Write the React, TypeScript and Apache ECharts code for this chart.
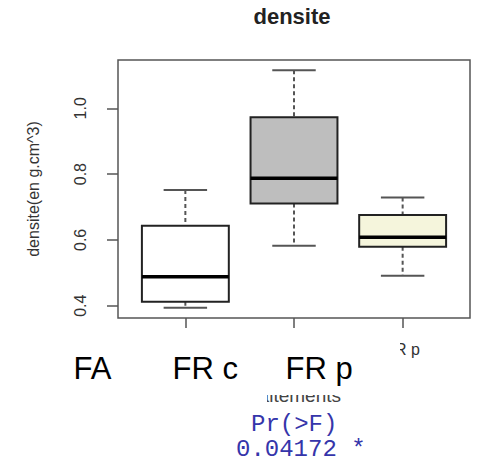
import React, { useEffect, useRef } from "react";
import * as echarts from "echarts";

const categories = ["FA", "FR c", "FR p"];
const whiskerLow = [0.394, 0.582, 0.491];
const q1 = [0.412, 0.711, 0.579];
const median = [0.488, 0.787, 0.608];
const q3 = [0.643, 0.973, 0.676];
const whiskerHigh = [0.752, 1.116, 0.729];
const boxFills = ["#ffffff", "#bebebe", "#f5f5dc"];
const yTicks = [0.4, 0.6, 0.8, 1.0];
const xTicks = [1, 2, 3];
const overlayLabels = ["FA", "FR c", "FR p"];
const overlayX = [73.5, 172.5, 285.5];
const pLabel = "Pr(>F)";
const pValue = "0.04172 *";

const SANS = "'Liberation Sans', Arial, Helvetica, sans-serif";
const MONO = "'Liberation Mono', 'Courier New', monospace";

export default function App() {
  const ref = useRef<HTMLDivElement>(null);
  useEffect(() => {
    if (!ref.current) return;
    const chart = echarts.init(ref.current, undefined, { renderer: "svg" });
    const data = categories.map((_, i) => [
      i + 1,
      whiskerLow[i],
      q1[i],
      median[i],
      q3[i],
      whiskerHigh[i],
    ]);
    chart.setOption({
      animation: false,
      backgroundColor: "#ffffff",
      grid: {
        left: 118,
        right: 9,
        top: 60,
        bottom: 144,
        show: true,
        borderColor: "#555",
        borderWidth: 1.5,
        backgroundColor: "transparent",
      },
      xAxis: {
        type: "value",
        min: 0.38,
        max: 3.62,
        axisLine: { show: false },
        splitLine: { show: false },
        axisTick: {
          show: true,
          customValues: xTicks,
          length: 10,
          lineStyle: { color: "#555", width: 1.5 },
        },
        axisLabel: {
          customValues: [3],
          margin: 23,
          fontSize: 16,
          fontFamily: SANS,
          color: "#333",
          formatter: (v: number) => categories[Math.round(v) - 1] ?? "",
        },
        name: "traitements",
        nameLocation: "middle",
        nameGap: 68,
        nameTextStyle: { fontSize: 19, fontFamily: SANS, color: "#444" },
      },
      yAxis: {
        type: "value",
        min: 0.3626,
        max: 1.1468,
        axisLine: { show: false },
        splitLine: { show: false },
        axisTick: {
          show: true,
          customValues: yTicks,
          length: 11,
          lineStyle: { color: "#555", width: 1.5 },
        },
        axisLabel: {
          customValues: yTicks,
          rotate: 90,
          margin: 30,
          fontSize: 16,
          fontFamily: SANS,
          color: "#333",
          formatter: (v: number) => v.toFixed(1),
        },
        name: "densite(en g.cm^3)",
        nameLocation: "middle",
        nameGap: 77,
        nameTextStyle: { fontSize: 16, fontFamily: SANS, color: "#333" },
      },
      series: [
        {
          type: "custom",
          clip: false,
          data,
          renderItem: (params: any, api: any) => {
            const x = api.value(0);
            const i = params.dataIndex;
            const pLo = api.coord([x, api.value(1)]);
            const pQ1 = api.coord([x, api.value(2)]);
            const pMed = api.coord([x, api.value(3)]);
            const pQ3 = api.coord([x, api.value(4)]);
            const pHi = api.coord([x, api.value(5)]);
            const half = api.size([0.8, 0])[0] / 2;
            const capHalf = api.size([0.4, 0])[0] / 2;
            const cx = pMed[0];
            const dashStyle = {
              stroke: "#555",
              lineWidth: 2,
              lineDash: [4, 3],
            };
            const solid = { stroke: "#555", lineWidth: 2 };
            return {
              type: "group",
              children: [
                {
                  type: "line",
                  shape: { x1: cx, y1: pHi[1], x2: cx, y2: pQ3[1] },
                  style: dashStyle,
                },
                {
                  type: "line",
                  shape: { x1: cx, y1: pQ1[1], x2: cx, y2: pLo[1] },
                  style: dashStyle,
                },
                {
                  type: "line",
                  shape: {
                    x1: cx - capHalf,
                    y1: pHi[1],
                    x2: cx + capHalf,
                    y2: pHi[1],
                  },
                  style: solid,
                },
                {
                  type: "line",
                  shape: {
                    x1: cx - capHalf,
                    y1: pLo[1],
                    x2: cx + capHalf,
                    y2: pLo[1],
                  },
                  style: solid,
                },
                {
                  type: "rect",
                  shape: {
                    x: cx - half,
                    y: pQ3[1],
                    width: half * 2,
                    height: pQ1[1] - pQ3[1],
                  },
                  style: { fill: boxFills[i], stroke: "#222", lineWidth: 2 },
                },
                {
                  type: "line",
                  shape: {
                    x1: cx - half,
                    y1: pMed[1],
                    x2: cx + half,
                    y2: pMed[1],
                  },
                  style: { stroke: "#000", lineWidth: 3.5 },
                },
              ],
            };
          },
        },
      ],
      graphic: [
        {
          type: "text",
          x: 292,
          y: 16.4,
          z: 100,
          style: {
            text: "densite",
            fontSize: 22,
            fontWeight: "bold",
            fontFamily: SANS,
            fill: "#222",
            align: "center",
            verticalAlign: "middle",
          },
        },
        {
          type: "rect",
          z: 100,
          shape: { x: 40, y: 330, width: 360, height: 65 },
          style: { fill: "#ffffff" },
        },
        {
          type: "rect",
          z: 100,
          shape: { x: 236, y: 390, width: 31, height: 20 },
          style: { fill: "#ffffff" },
        },
        ...overlayLabels.map((t, i) => ({
          type: "text",
          x: overlayX[i],
          y: 368.5,
          z: 101,
          style: {
            text: t,
            fontSize: 31,
            fontFamily: SANS,
            fill: "#000",
            align: "left",
            verticalAlign: "middle",
          },
        })),
        {
          type: "text",
          x: 251,
          y: 424.5,
          z: 101,
          style: {
            text: pLabel,
            fontSize: 24,
            lineHeight: 21,
            fontFamily: MONO,
            fill: "#3535aa",
            align: "left",
            verticalAlign: "middle",
          },
        },
        {
          type: "text",
          x: 236,
          y: 449,
          z: 101,
          style: {
            text: pValue,
            fontSize: 24,
            lineHeight: 21,
            fontFamily: MONO,
            fill: "#3535aa",
            align: "left",
            verticalAlign: "middle",
          },
        },
      ],
    });
    return () => chart.dispose();
  }, []);
  return (
    <div
      ref={ref}
      style={{ position: "absolute", left: 0, top: 0, width: 479, height: 462 }}
    />
  );
}
